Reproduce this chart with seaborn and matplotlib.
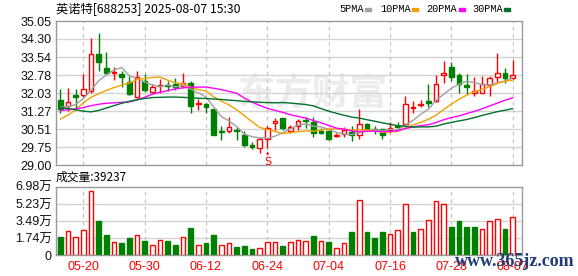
import matplotlib
matplotlib.use("Agg")
import matplotlib.pyplot as plt
from matplotlib.patches import Rectangle
import seaborn as sns
import pandas as pd
import numpy as np

# ---------------- data ----------------
dates = ["05-15", "05-16", "05-19", "05-20", "05-21", "05-22", "05-23", "05-26", "05-27", "05-28",
         "05-29", "05-30", "06-03", "06-04", "06-05", "06-06", "06-09", "06-10", "06-11", "06-12",
         "06-13", "06-16", "06-17", "06-18", "06-19", "06-20", "06-23", "06-24", "06-25", "06-26",
         "06-27", "06-30", "07-01", "07-02", "07-03", "07-04", "07-07", "07-08", "07-09", "07-10",
         "07-11", "07-14", "07-15", "07-16", "07-17", "07-18", "07-21", "07-22", "07-23", "07-24",
         "07-25", "07-28", "07-29", "07-30", "07-31", "08-01", "08-04", "08-05", "08-06", "08-07"]

opens = [31.74, 31.49, 31.96, 31.94, 32.13, 33.67, 33.08, 32.89, 32.83, 32.51,
         31.85, 32.52, 32.09, 32.32, 32.38, 32.41, 32.32, 32.46, 31.57, 31.57,
         31.35, 30.43, 30.43, 30.48, 30.28, 29.86, 29.73, 30.09, 30.79, 30.97,
         30.45, 30.65, 30.90, 30.83, 30.45, 30.45, 30.21, 30.31, 30.41, 30.27,
         30.73, 30.52, 30.51, 30.48, 30.65, 30.73, 31.40, 31.52, 31.70, 31.71,
         32.77, 33.11, 32.79, 32.37, 32.04, 32.04, 32.37, 32.72, 32.86, 32.67]
highs = [32.20, 32.24, 32.20, 32.83, 34.32, 34.53, 33.74, 33.11, 32.95, 32.76,
         32.97, 32.83, 32.40, 32.61, 32.55, 32.65, 32.88, 32.55, 31.77, 31.60,
         31.38, 30.65, 31.01, 30.62, 30.43, 29.98, 30.17, 30.65, 30.97, 31.00,
         30.69, 30.93, 31.04, 31.04, 30.55, 30.48, 30.34, 30.59, 30.65, 31.35,
         30.78, 30.65, 30.51, 30.83, 30.80, 31.91, 31.70, 31.74, 32.41, 32.79,
         33.37, 33.34, 32.86, 32.83, 32.69, 32.74, 32.74, 33.70, 33.07, 33.41]
lows = [31.21, 31.29, 31.33, 31.88, 32.02, 32.97, 32.79, 32.58, 32.30, 31.96,
        31.81, 32.09, 32.02, 32.02, 32.10, 32.16, 32.24, 31.18, 31.32, 31.21,
        30.26, 30.06, 30.34, 30.06, 29.75, 29.67, 29.53, 29.73, 30.48, 30.50,
        30.34, 30.48, 30.55, 30.17, 30.31, 30.05, 30.17, 30.20, 30.03, 30.09,
        30.45, 30.31, 30.09, 30.37, 30.55, 30.69, 31.21, 31.43, 31.43, 31.67,
        32.46, 32.53, 32.02, 31.99, 31.91, 32.02, 31.91, 32.51, 32.46, 32.61]
closes = [31.35, 31.64, 31.88, 32.19, 33.67, 33.32, 32.88, 32.92, 32.69, 31.99,
          32.69, 32.16, 32.30, 32.38, 32.32, 32.30, 32.46, 31.49, 31.62, 31.43,
          30.26, 30.38, 30.62, 30.43, 29.84, 29.75, 30.09, 30.56, 30.85, 30.55,
          30.59, 30.86, 30.87, 30.34, 30.37, 30.09, 30.25, 30.48, 30.27, 30.73,
          30.51, 30.49, 30.27, 30.55, 30.60, 31.56, 31.43, 31.56, 31.62, 32.41,
          32.86, 32.69, 32.40, 32.30, 32.11, 32.40, 32.65, 32.86, 32.65, 32.77]
# volume in 万 (10,000 shares)
volumes = [1.86, 2.44, 1.83, 2.54, 6.51, 3.49, 2.07, 1.32, 1.25, 1.76,
           2.03, 1.46, 1.02, 1.53, 1.46, 1.05, 1.83, 2.78, 1.02, 1.25,
           2.07, 1.02, 1.22, 0.85, 0.95, 0.64, 0.75, 1.32, 1.32, 0.95,
           1.32, 1.53, 1.45, 1.96, 1.45, 1.35, 0.71, 1.22, 2.37, 5.58,
           2.37, 1.76, 2.37, 2.13, 2.57, 5.21, 2.37, 2.64, 3.55, 5.51,
           5.21, 2.90, 3.49, 2.90, 2.90, 2.70, 3.49, 3.66, 2.67, 3.92]

ma5 = [31.44, 31.46, 31.55, 31.80, 32.15, 32.54, 32.79, 33.00, 33.10, 32.76,
       32.63, 32.49, 32.37, 32.30, 32.37, 32.29, 32.35, 32.19, 32.04, 31.86,
       31.45, 31.04, 30.86, 30.62, 30.31, 30.20, 30.15, 30.13, 30.22, 30.36,
       30.53, 30.68, 30.74, 30.64, 30.61, 30.51, 30.38, 30.31, 30.29, 30.36,
       30.45, 30.50, 30.45, 30.51, 30.48, 30.69, 30.88, 31.14, 31.35, 31.72,
       31.98, 32.23, 32.40, 32.53, 32.47, 32.38, 32.37, 32.46, 32.53, 32.67]
ma10 = [30.93, 31.11, 31.32, 31.62, 31.85, 32.00, 32.14, 32.26, 32.36, 32.45,
        32.59, 32.64, 32.68, 32.70, 32.57, 32.46, 32.42, 32.28, 32.17, 32.12,
        31.87, 31.69, 31.53, 31.33, 31.08, 30.83, 30.59, 30.50, 30.42, 30.33,
        30.37, 30.41, 30.44, 30.43, 30.48, 30.52, 30.53, 30.53, 30.47, 30.49,
        30.48, 30.44, 30.38, 30.40, 30.42, 30.57, 30.69, 30.80, 30.93, 31.10,
        31.34, 31.56, 31.77, 31.94, 32.09, 32.18, 32.30, 32.43, 32.53, 32.57]
ma20 = [31.30, 31.33, 31.37, 31.42, 31.50, 31.56, 31.60, 31.62, 31.64, 31.66,
        31.74, 31.85, 31.98, 32.06, 32.13, 32.20, 32.25, 32.27, 32.28, 32.28,
        32.23, 32.17, 32.10, 32.02, 31.82, 31.65, 31.51, 31.39, 31.30, 31.22,
        31.12, 31.05, 30.98, 30.88, 30.78, 30.67, 30.56, 30.51, 30.44, 30.41,
        30.42, 30.43, 30.41, 30.42, 30.45, 30.54, 30.61, 30.66, 30.70, 30.79,
        30.91, 31.00, 31.07, 31.17, 31.26, 31.37, 31.49, 31.61, 31.73, 31.83]
ma30 = [31.42, 31.38, 31.33, 31.27, 31.24, 31.30, 31.40, 31.50, 31.60, 31.68,
        31.75, 31.80, 31.84, 31.85, 31.86, 31.86, 31.85, 31.83, 31.81, 31.80,
        31.78, 31.76, 31.73, 31.71, 31.68, 31.66, 31.64, 31.63, 31.62, 31.63,
        31.61, 31.58, 31.55, 31.49, 31.38, 31.27, 31.18, 31.10, 31.02, 30.98,
        30.91, 30.85, 30.78, 30.72, 30.66, 30.64, 30.60, 30.61, 30.61, 30.64,
        30.73, 30.80, 30.86, 30.92, 31.00, 31.09, 31.17, 31.25, 31.31, 31.38]

tick_dates = ["05-20", "05-30", "06-12", "06-24", "07-04", "07-16", "07-28", "08-07"]
price_ticks = [29.00, 29.75, 30.51, 31.27, 32.03, 32.78, 33.54, 34.30, 35.05]
vol_ticks = [0, 1.74, 3.49, 5.23, 6.98]
vol_tick_labels = ["0", "1.74万", "3.49万", "5.23万", "6.98万"]
ma_names = ["5PMA", "10PMA", "20PMA", "30PMA"]
ma_colors = ["#a0a0a0", "#f5a000", "#ff00ff", "#00702c"]
signal_dates = ["06-24"]
signal_texts = ["S"]
title_text = "英诺特[688253] 2025-08-07 15:30"
vol_title = "成交量:39237"
watermark = "东方财富"
site_mark = "www.365jz.com"

# ---------------- style ----------------
sns.set_theme(style="white")
plt.rcParams['font.family'] = ['Liberation Sans', 'Noto Sans CJK SC']
plt.rcParams['axes.unicode_minus'] = False

W, H = 578, 276
fig = plt.figure(figsize=(W / 100, H / 100), dpi=100)
fig.patch.set_facecolor("white")


def fx(px):
    return px / W


def fy(py):
    return 1 - py / H


L, R = 56, 522.3
PT, PB = 21.0, 165.3
VT, VB = 186.7, 255.3
ax = fig.add_axes([fx(L), fy(PB), fx(R - L), (PB - PT) / H])
axv = fig.add_axes([fx(L), fy(VB), fx(R - L), (VB - VT) / H])

RED, GREEN = "#ff0000", "#008000"
GRID = "#d4d4d4"
SPINE = "#9a9a9a"

df = pd.DataFrame({"date": dates, "open": opens, "high": highs, "low": lows,
                   "close": closes, "vol": volumes,
                   "ma5": ma5, "ma10": ma10, "ma20": ma20, "ma30": ma30})
df["x"] = np.arange(len(df))
df["up"] = df["close"] >= df["open"]
prev = df["close"].shift(1)
df["vup"] = np.where(prev.isna(), df["up"], df["close"] >= prev)

xmin, xmax = -0.56, 60.25
tick_pos = [dates.index(d) for d in tick_dates]

for a in (ax, axv):
    a.set_xlim(xmin, xmax)
    a.set_facecolor("white")
    for s in a.spines.values():
        s.set_color(SPINE)
        s.set_linewidth(1.0)
    a.set_xticks(tick_pos)
    a.tick_params(axis="both", length=0)
    for p in tick_pos:
        a.axvline(p, color="#c4c4c4", lw=0.9, ls=(0, (3, 3)), zorder=0.6)

# watermark
ax.text(fx(238), fy(94), watermark, transform=fig.transFigure, fontsize=27,
        fontweight="bold", color="#ececec", family=["Noto Sans CJK SC"],
        ha="left", va="center", zorder=0.3, clip_on=False)

# price axis
ax.set_ylim(price_ticks[0], price_ticks[-1])
ax.set_yticks(price_ticks)
ax.set_yticklabels([f"{v:.2f}" for v in price_ticks], fontsize=9, color="#111111")
ax.set_xticklabels([])
for v in price_ticks[1:-1]:
    ax.axhline(v, color=GRID, lw=1.0, zorder=0.5)
ax.tick_params(axis="y", pad=3)

w = 0.62
for r in df.itertuples():
    c = RED if r.up else GREEN
    ax.vlines(r.x, r.low, r.high, color=c, lw=1.0, zorder=2)
    lo, hi = min(r.open, r.close), max(r.open, r.close)
    hgt = max(hi - lo, 0.012)
    ax.bar(r.x, hgt, bottom=lo, width=w, color="white" if r.up else GREEN,
           edgecolor=c, lw=1.0, zorder=3)

for col, name, colr in zip(["ma5", "ma10", "ma20", "ma30"], ma_names, ma_colors):
    sns.lineplot(data=df, x="x", y=col, ax=ax, color=colr, lw=1.0, zorder=4,
                 legend=False)
ax.set_xlabel("")
ax.set_ylabel("")

for d, t in zip(signal_dates, signal_texts):
    i = dates.index(d)
    ax.annotate(t, xy=(i, lows[i]), xytext=(0, -14), textcoords="offset pixels",
                ha="center", va="center", color=RED, fontsize=8,
                family=["DejaVu Sans"], zorder=6, annotation_clip=False)
    ax.annotate("▲", xy=(i, lows[i]), xytext=(0, -6), textcoords="offset pixels",
                ha="center", va="center", color=RED, fontsize=3.2,
                family=["DejaVu Sans"], zorder=6, annotation_clip=False)

# volume axis
axv.set_ylim(vol_ticks[0], vol_ticks[-1])
axv.set_yticks(vol_ticks)
axv.set_yticklabels(vol_tick_labels, fontsize=9, color="#111111")
for v in vol_ticks[1:-1]:
    axv.axhline(v, color=GRID, lw=1.0, zorder=0.5)
for r in df.itertuples():
    c = RED if r.vup else GREEN
    axv.bar(r.x, r.vol, width=w, color="white" if r.vup else GREEN,
            edgecolor=c, lw=1.0, zorder=3)
axv.set_xticklabels(tick_dates, fontsize=9, color=RED)
axv.tick_params(axis="x", pad=4)
axv.tick_params(axis="y", pad=3)

# texts
fig.text(fx(56), fy(8.5), title_text, fontsize=8.8, color="#000000",
         family=["Noto Sans CJK SC"], ha="left", va="center")
fig.text(fx(56), fy(177.5), vol_title, fontsize=8.5, color="#000000",
         family=["Noto Sans CJK SC"], ha="left", va="center")

leg_x = [339, 380.5, 426, 472]
sw_x = [365, 412, 459, 504]
for name, colr, lx, sx in zip(ma_names, ma_colors, leg_x, sw_x):
    fig.text(fx(lx), fy(9.5), name, fontsize=7.4, color="#000000",
             family=["Liberation Mono"], ha="left", va="center")
    fig.patches.append(Rectangle((fx(sx), fy(11)), 6 / W, 3 / H,
                                 transform=fig.transFigure, color=colr))

fig.text(fx(455), fy(261), site_mark, fontsize=13, color="#203c78",
         family=["Liberation Serif"], fontweight="bold", ha="left", va="center")

fig.savefig("out.png", dpi=100, facecolor="white")
